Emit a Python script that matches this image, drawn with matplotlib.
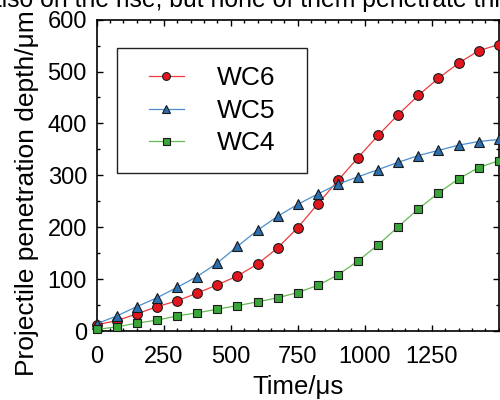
import matplotlib
matplotlib.use("Agg")
import matplotlib.pyplot as plt
from matplotlib.ticker import MultipleLocator
from matplotlib.patches import Rectangle

plt.rcParams['font.family'] = ['Liberation Sans', 'DejaVu Sans']

time_us = [0, 75, 150, 225, 300, 375, 450, 525, 600, 675, 750, 825, 900, 975,
           1050, 1125, 1200, 1275, 1350, 1425, 1500]
wc6 = [12, 20, 33, 47, 58, 73, 89, 106, 129, 160, 199, 245, 290, 334,
       377, 417, 454, 487, 516, 540, 552]
wc5 = [14, 29, 47, 64, 84, 105, 131, 163, 194, 221, 244, 264, 283, 297,
       311, 325, 338, 348, 358, 365, 369]
wc4 = [3, 8, 15, 21, 29, 35, 42, 49, 56, 64, 74, 88, 108, 135,
       166, 201, 235, 266, 293, 315, 328]
labels = ['WC6', 'WC5', 'WC4']
xticks = [0, 250, 500, 750, 1000, 1250]
yticks = [0, 100, 200, 300, 400, 500, 600]

fig = plt.figure(figsize=(5, 4), dpi=100)
ax = fig.add_axes([0.1934, 0.1725, 0.804, 0.7785])

styles = [
    dict(color='#ee3b3b', marker='o', mfc='#e3161e', ms=7.0),
    dict(color='#4a90d0', marker='^', mfc='#2b6fb0', ms=7.0),
    dict(color='#66bb55', marker='s', mfc='#3aa63a', ms=6.3),
]
for ys, lab, st in zip([wc6, wc5, wc4], labels, styles):
    ax.plot(time_us, ys, color=st['color'], lw=0.9, marker=st['marker'],
            mfc=st['mfc'], mec='#1a1a1a', mew=0.8, ms=st['ms'], label=lab,
            clip_on=False, zorder=3)

ax.set_xlim(0, 1500)
ax.set_ylim(0, 600)
ax.set_xticks(xticks)
ax.set_yticks(yticks)
ax.xaxis.set_minor_locator(MultipleLocator(50))
ax.yaxis.set_minor_locator(MultipleLocator(50))
ax.tick_params(which='both', direction='in', top=True, right=True, width=1.0)
ax.tick_params(which='major', length=4, labelsize=17, pad=7)
ax.tick_params(which='minor', length=2.5)
ax.tick_params(axis='x', which='major', pad=11)
for sp in ax.spines.values():
    sp.set_linewidth(1.2)

ax.set_xlabel('Time/μs', fontsize=18.5, labelpad=5)
ax.set_ylabel('Projectile penetration depth/μm', fontsize=19)
ax.yaxis.set_label_coords(-0.1435, 0.443)

# legend frame
x0, x1, y0, y1 = 0.0505, 0.5234, 0.5063, 0.9076
ax.add_patch(Rectangle((x0, y0), x1 - x0, y1 - y0, transform=ax.transAxes,
                       facecolor='white', edgecolor='#222222', lw=1.0, zorder=4))
leg = ax.legend(loc='center', bbox_to_anchor=((x0 + x1) / 2, (y0 + y1) / 2),
                borderaxespad=0, fontsize=19, frameon=False,
                handlelength=1.33, handletextpad=1.25, labelspacing=0.32,
                borderpad=0.0, markerscale=0.8)
leg.set_zorder(5)

fig.text(-0.024, 1 - 6.5 / 400, 'also on the rise, but none of them penetrate through the target',
         fontsize=17.8, ha='left', va='baseline')

fig.savefig('out.png', dpi=100)
